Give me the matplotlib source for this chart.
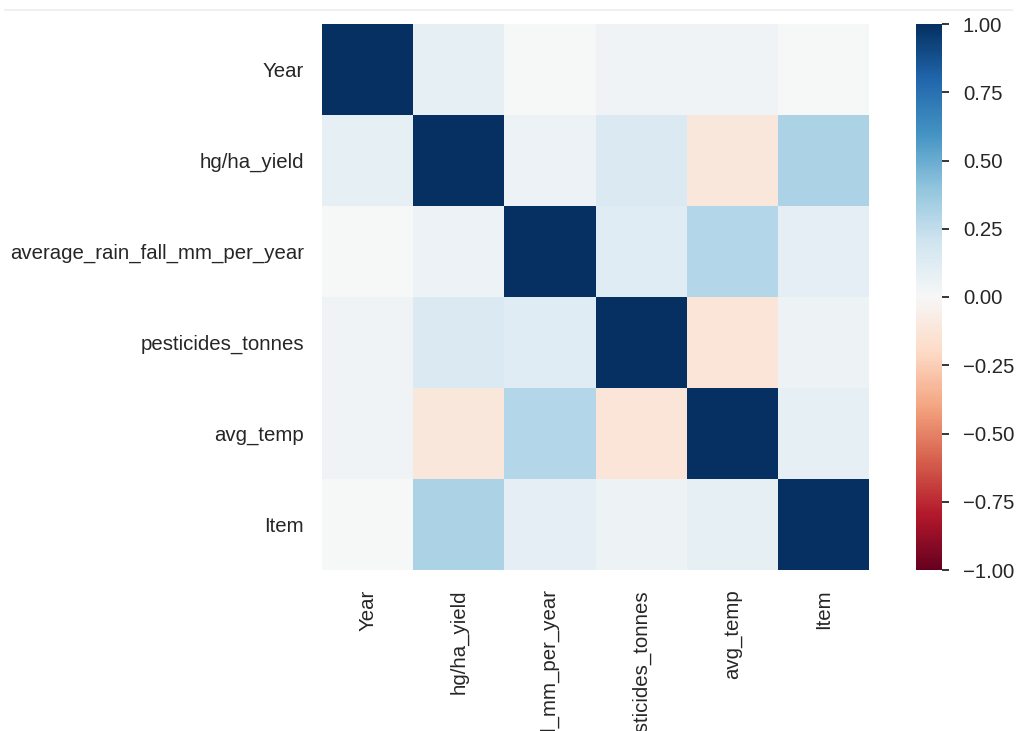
import numpy as np
import matplotlib
matplotlib.use("Agg")
from matplotlib import pyplot as plt
from matplotlib.lines import Line2D

plt.rcParams['font.family'] = ['Liberation Sans', 'DejaVu Sans']

labels = ["Year", "hg/ha_yield", "average_rain_fall_mm_per_year",
          "pesticides_tonnes", "avg_temp", "Item"]

# correlation values
year_row = [1.00, 0.09, 0.00, 0.04, 0.04, 0.00]
yield_row = [0.09, 1.00, 0.06, 0.15, -0.11, 0.32]
rain_row = [0.00, 0.06, 1.00, 0.12, 0.29, 0.10]
pest_row = [0.04, 0.15, 0.12, 1.00, -0.13, 0.05]
temp_row = [0.04, -0.11, 0.29, -0.13, 1.00, 0.09]
item_row = [0.00, 0.32, 0.10, 0.05, 0.09, 1.00]

corr = np.array([year_row, yield_row, rain_row, pest_row, temp_row, item_row])

fs = 14.7
fig = plt.figure(figsize=(10.17, 7.31), dpi=100)
ax = fig.add_axes([322/1017, 1 - 570/731, 547/1017, 546/731])
cax = fig.add_axes([916/1017, 1 - 570/731, 26/1017, 546/731])

mesh = ax.pcolormesh(corr, cmap="RdBu", vmin=-1, vmax=1)
ax.set_xlim(0, len(labels))
ax.set_ylim(len(labels), 0)
ax.set_xticks(np.arange(len(labels)) + 0.5)
ax.set_yticks(np.arange(len(labels)) + 0.5)
ax.set_xticklabels(labels, rotation=90, fontsize=fs, color="#262626")
ax.set_yticklabels(labels, fontsize=fs, color="#262626")
ax.tick_params(axis="y", length=0, pad=13)
ax.tick_params(axis="x", length=0, pad=14)
for s in ax.spines.values():
    s.set_visible(False)

cb = fig.colorbar(mesh, cax=cax)
cb.set_ticks(np.linspace(-1, 1, 9))
cb.ax.tick_params(labelsize=fs, length=5, width=1.3, color="#262626", labelcolor="#262626", pad=10)
cb.outline.set_visible(False)

fig.add_artist(Line2D([0.005, 0.995], [1 - 10/731, 1 - 10/731], transform=fig.transFigure,
                      color="#f0f0f0", lw=1.5))

fig.savefig("out.png", dpi=100)
